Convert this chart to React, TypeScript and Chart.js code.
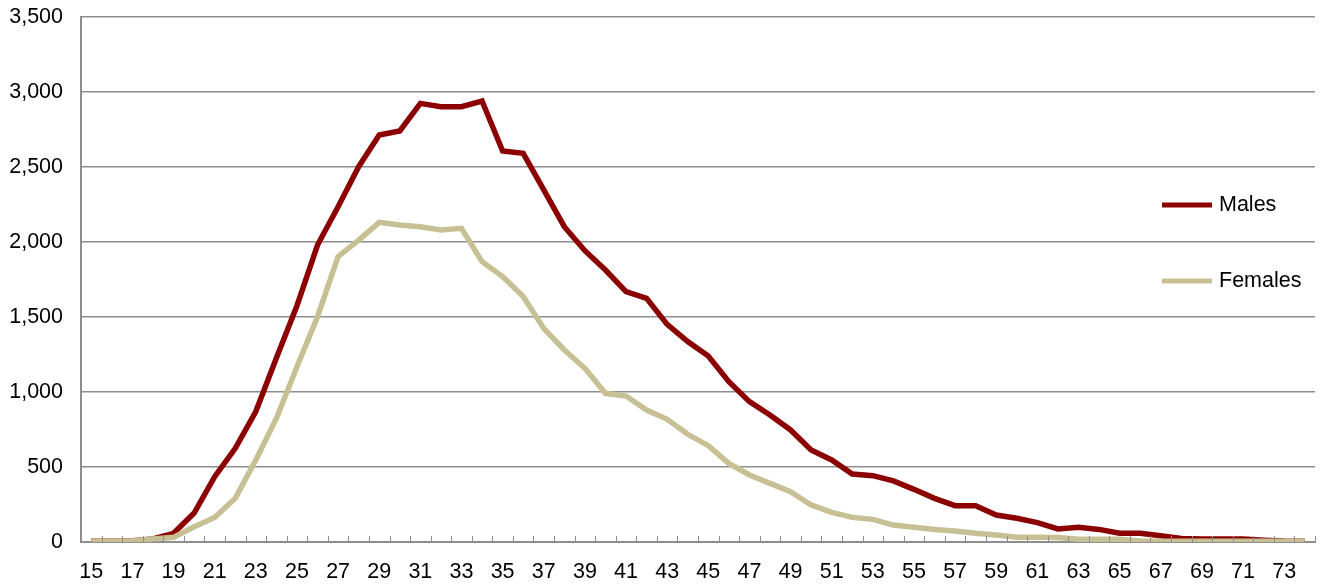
import React, { useEffect, useRef } from "react";
import { Chart, registerables } from "chart.js";

Chart.register(...registerables);

const ages: string[] = [];
for (let a = 15; a <= 74; a++) ages.push(String(a));

const males = [
  5, 5, 8, 20, 58, 193, 435, 625, 870, 1227,
  1575, 1980, 2235, 2502, 2713, 2740, 2924, 2902, 2902, 2940,
  2607, 2591, 2347, 2102, 1942, 1813, 1669, 1624, 1451, 1336,
  1240, 1069, 936, 847, 747, 613, 547, 453, 442, 407,
  351, 291, 242, 242, 180, 158, 129, 87, 98, 84,
  58, 58, 42, 24, 20, 20, 20, 12, 6, 5,
];

const females = [
  5, 5, 8, 20, 31, 102, 164, 291, 547, 824,
  1169, 1502, 1902, 2013, 2131, 2113, 2102, 2080, 2091, 1869,
  1769, 1636, 1424, 1280, 1158, 991, 973, 880, 818, 718,
  642, 524, 447, 391, 336, 247, 198, 164, 151, 113,
  98, 84, 73, 58, 47, 31, 31, 30, 18, 18,
  18, 7, 5, 5, 5, 5, 5, 5, 5, 5,
];

const seriesNames = ["Males", "Females"];
const seriesColors = ["#8B0000", "#C8C095"];
const yTicks = [0, 500, 1000, 1500, 2000, 2500, 3000, 3500];

const FONT = "'Liberation Sans', Arial, sans-serif";
const FONT_SIZE = 21.5;
const GRID = "#8e8e8e";

const innerTicks = {
  id: "innerTicks",
  afterDatasetsDraw(chart: any) {
    const { ctx, chartArea } = chart;
    const n = ages.length;
    const step = (chartArea.right - chartArea.left) / n;
    ctx.save();
    ctx.strokeStyle = GRID;
    ctx.lineWidth = 1;
    for (let i = 1; i <= n; i++) {
      const x = Math.round(chartArea.left + i * step) + 0.5;
      ctx.beginPath();
      ctx.moveTo(x, chartArea.bottom);
      ctx.lineTo(x, chartArea.bottom - 6);
      ctx.stroke();
    }
    ctx.restore();
  },
};

const customLegend = {
  id: "customLegend",
  afterDraw(chart: any) {
    const { ctx } = chart;
    const ys = [205, 281];
    ctx.save();
    ys.forEach((y, i) => {
      ctx.strokeStyle = seriesColors[i];
      ctx.lineWidth = 5;
      ctx.beginPath();
      ctx.moveTo(1162, y);
      ctx.lineTo(1212, y);
      ctx.stroke();
      ctx.fillStyle = "#000";
      ctx.font = `${FONT_SIZE}px ${FONT}`;
      ctx.textBaseline = "middle";
      ctx.textAlign = "left";
      ctx.fillText(seriesNames[i], 1219, y);
    });
    ctx.restore();
  },
};

export default function App() {
  const ref = useRef<HTMLCanvasElement>(null);
  useEffect(() => {
    if (!ref.current) return;
    const chart = new Chart(ref.current, {
      type: "line",
      data: {
        labels: ages,
        datasets: [
          {
            label: seriesNames[1],
            data: females,
            borderColor: seriesColors[1],
            backgroundColor: seriesColors[1],
            borderWidth: 5.5,
            pointRadius: 0,
            tension: 0,
            borderJoinStyle: "miter",
          },
          {
            label: seriesNames[0],
            data: males,
            borderColor: seriesColors[0],
            backgroundColor: seriesColors[0],
            borderWidth: 5.5,
            pointRadius: 0,
            tension: 0,
            borderJoinStyle: "miter",
          },
        ],
      },
      options: {
        responsive: false,
        animation: false,
        layout: { padding: { top: 17, right: 5, left: 0, bottom: 0 } },
        plugins: {
          legend: { display: false },
          tooltip: { enabled: false },
        },
        scales: {
          x: {
            type: "category",
            offset: true,
            grid: { display: false, drawTicks: false },
            border: { display: true, color: GRID, width: 2 },
            ticks: {
              autoSkip: false,
              maxRotation: 0,
              minRotation: 0,
              padding: 17,
              color: "#000",
              font: { family: FONT, size: FONT_SIZE },
              callback: (_v: any, i: number) => (i % 2 === 0 ? ages[i] : ""),
            },
            afterFit: (s: any) => {
              s.height = 44;
              s.paddingLeft = 0;
              s.paddingRight = 0;
            },
          },
          y: {
            min: 0,
            max: 3500,
            afterBuildTicks: (s: any) => {
              s.ticks = yTicks.map((v) => ({ value: v }));
            },
            grid: { color: GRID, lineWidth: 1.5, drawTicks: false },
            border: { display: true, color: GRID, width: 2 },
            ticks: {
              padding: 18,
              color: "#000",
              font: { family: FONT, size: FONT_SIZE },
              callback: (v: any) => Number(v).toLocaleString("en-US"),
            },
            afterFit: (s: any) => {
              s.width = 81;
              s.paddingTop = 0;
              s.paddingBottom = 0;
            },
          },
        },
      },
      plugins: [innerTicks, customLegend],
    });
    return () => chart.destroy();
  }, []);
  return (
    <div style={{ position: "fixed", left: 0, top: 0, width: 1320, height: 586, background: "#fff" }}>
      <canvas ref={ref} width={1320} height={586} />
    </div>
  );
}
